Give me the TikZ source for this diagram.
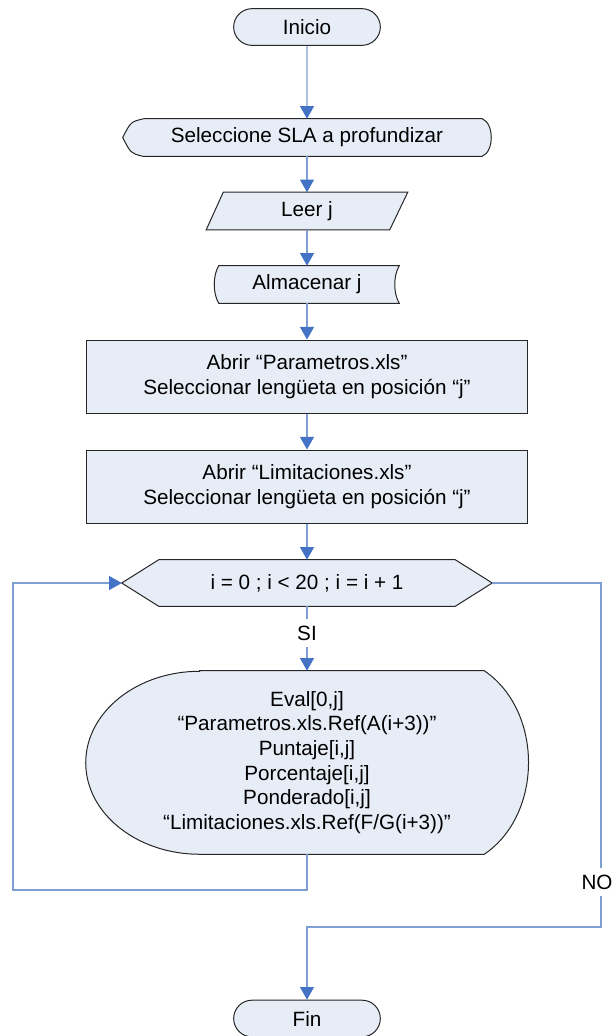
\documentclass[tikz,border=0pt]{standalone}
\usepackage{fontspec}
\setmainfont{Liberation Sans}
\usetikzlibrary{arrows.meta,calc,shapes.misc,backgrounds}
\definecolor{shade}{HTML}{E7EDF7}
\definecolor{edge}{HTML}{262626}
\definecolor{wireblue}{HTML}{7C9FD4}
\definecolor{tipblue}{HTML}{4472C4}
\begin{document}
\begin{tikzpicture}[x=0.75pt, y=-0.75pt,
    every node/.style={font=\fontsize{15.5}{19}\selectfont},
    txt/.style={align=center, inner sep=0pt},
    term/.style={rounded rectangle, draw=edge, fill=shade, line width=0.75pt, minimum width=110pt, minimum height=27.5pt, inner sep=0pt},
    proc/.style={rectangle, draw=edge, fill=shade, line width=0.75pt, minimum width=330.75pt, minimum height=54.75pt, align=center, inner sep=0pt},
    outline/.style={draw=edge, fill=shade, line width=0.75pt},
    flow/.style={draw=wireblue, line width=0.9pt, -{Triangle[width=10.5pt,length=9.5pt,color=tipblue]}},
    tag/.style={fill=white, inner xsep=1pt, inner ysep=5pt}
  ]
    \useasboundingbox (0,0) rectangle (616,1036);
    \node[term] (inicio) at (307,27) {Inicio};
    \node[txt, minimum width=276pt, minimum height=27.75pt] (sel) at (307,137.5) {Seleccione SLA a profundizar};
    \node[txt, minimum width=150.75pt, minimum height=27.75pt] (leer) at (307,211) {Leer j};
    \node[txt, minimum width=138pt, minimum height=27.75pt] (alm) at (307,284.5) {Almacenar j};
    \node[proc] (abrirp) at (307,376.5) {Abrir “Parametros.xls”\\Seleccionar lengüeta en posición “j”};
    \node[proc] (abrirl) at (307,486.5) {Abrir “Limitaciones.xls”\\Seleccionar lengüeta en posición “j”};
    \node[txt, minimum width=277.5pt, minimum height=34.5pt] (ciclo) at (307,583) {i = 0 ; i < 20 ; i = i + 1};
    \node[txt, minimum width=331.5pt, minimum height=137.25pt, font=\fontsize{15.5}{18.5}\selectfont] (eval) at (307,762.5) {Eval[0,j]\\“Parametros.xls.Ref(A(i+3))”\\Puntaje[i,j]\\Porcentaje[i,j]\\Ponderado[i,j]\\“Limitaciones.xls.Ref(F/G(i+3))”};
    \node[term] (fin) at (307,1018.5) {Fin};
    \begin{pgfonlayer}{background}
      \draw[outline] ($(sel.north west)+(21,0)$) -- ($(sel.north east)+(-9,0)$) .. controls ($(sel.north east)+(3,5)$) and ($(sel.south east)+(3,-5)$) .. ($(sel.south east)+(-9,0)$) -- ($(sel.south west)+(20,0)$) .. controls ($(sel.south west)+(8,-3)$) .. (sel.west) .. controls ($(sel.north west)+(8,3)$) .. ($(sel.north west)+(21,0)$) -- cycle;
      \draw[outline] ($(leer.north west)+(17,0)$) -- (leer.north east) -- ($(leer.south east)+(-18,0)$) -- (leer.south west) -- cycle;
      \draw[outline] ($(alm.north west)+(4,0)$) -- (alm.north east) .. controls ($(alm.north east)+(-6,10)$) and ($(alm.south east)+(-6,-10)$) .. (alm.south east) -- ($(alm.south west)+(4,0)$) .. controls ($(alm.south west)+(-2,-10)$) and ($(alm.north west)+(-2,10)$) .. ($(alm.north west)+(4,0)$) -- cycle;
      \draw[outline] (ciclo.west) -- ($(ciclo.north west)+(37,0)$) -- ($(ciclo.north east)+(-37,0)$) -- (ciclo.east) -- ($(ciclo.south east)+(-37,0)$) -- ($(ciclo.south west)+(37,0)$) -- cycle;
      \draw[outline] ($(eval.north west)+(114,0)$) -- ($(eval.north east)+(-44,0)$) .. controls ($(eval.north east)+(15,40)$) and ($(eval.south east)+(15,-40)$) .. ($(eval.south east)+(-44,0)$) -- ($(eval.south west)+(114,0)$) arc[start angle=270, end angle=90, x radius=85.5pt, y radius=68.625pt] -- cycle;
    \end{pgfonlayer}
    \draw[flow] (inicio) -- (sel);
    \draw[flow] (sel) -- (leer);
    \draw[flow] (leer) -- (alm);
    \draw[flow] (alm) -- (abrirp);
    \draw[flow] (abrirp) -- (abrirl);
    \draw[flow] (abrirl) -- (ciclo);
    \draw[flow] (ciclo) -- node[tag, pos=0.42] (si) {SI} (eval);
    \coordinate (vuelta) at (13,890);
    \draw[flow] (eval) |- (vuelta) |- (ciclo);
    \coordinate (salida) at (601,927);
    \draw[flow] (ciclo) -| (salida) -| (fin);
    \node[tag] (no) at (597,882) {NO};
  \end{tikzpicture}
\end{document}
